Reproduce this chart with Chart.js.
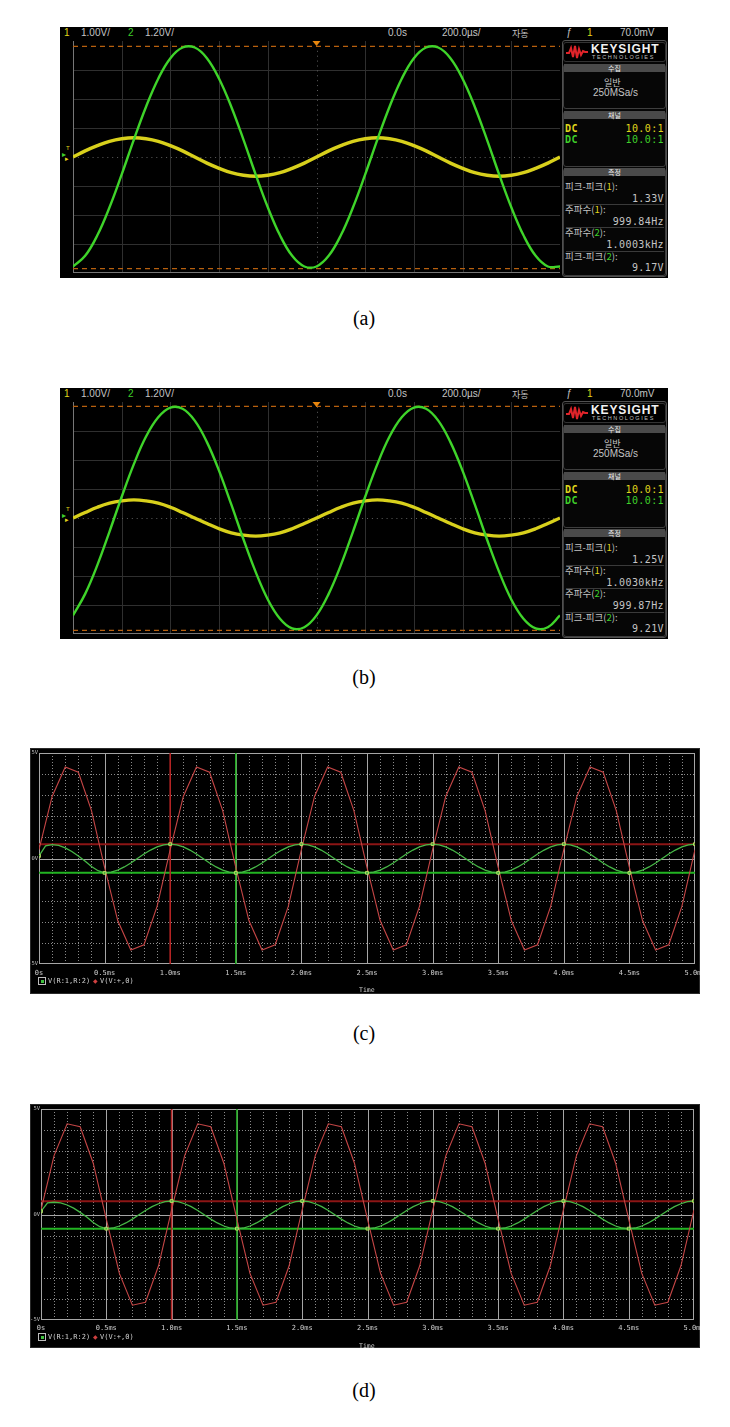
<!DOCTYPE html>
<html>
<head>
<meta charset="utf-8">
<title>scope vs simulation</title>
<script src="https://cdn.jsdelivr.net/npm/chart.js@4.4.1/dist/chart.umd.min.js"></script>
<style>
  body { margin:0; width:730px; height:1427px; background:#fff; position:relative; overflow:hidden; }
  .t { position:absolute; transform:translateY(-50%); white-space:nowrap; line-height:1; font-family:"Liberation Sans", sans-serif; color:#c4c4c4; }
  .scope { position:absolute; left:60px; width:608px; height:251px; background:#000; }
  .cap { position:absolute; left:0; width:728px; text-align:center; font-family:"Liberation Serif", serif; font-size:20px; color:#000; transform:translateY(-50%); }
  canvas { position:absolute; background:#000; }
  .box { position:absolute; border:1px solid #3e3e3e; border-radius:3px; box-sizing:border-box; }
  .bar { position:absolute; left:564px; width:101px; height:8px; background:#4a4a4a; color:#eee; font-size:7px; font-family:"Noto Sans CJK KR", sans-serif; text-align:center; line-height:8px; }
  .ps { position:absolute; left:30px; width:670px; background:#000; border:1px solid #2a2a2a; box-sizing:border-box; }
</style>
</head>
<body>
<div id="root"></div>
<script>
// ---- oscilloscope captures (a), (b): time in ms, 10 div x 0.2 ms ----
const scopeTime = [0,0.05,0.1,0.15,0.2,0.25,0.3,0.35,0.4,0.45,0.5,0.55,0.6,0.65,0.7,0.75,0.8,0.85,0.9,0.95,
  1,1.05,1.1,1.15,1.2,1.25,1.3,1.35,1.4,1.45,1.5,1.55,1.6,1.65,1.7,1.75,1.8,1.85,1.9,1.95,2];

// channel 1 (yellow), volts
const ch1A = [0,0.21,0.39,0.54,0.63,0.665,0.63,0.54,0.39,0.21,0,-0.21,-0.39,-0.54,-0.63,-0.665,-0.63,-0.54,-0.39,-0.21,
  0,0.21,0.39,0.54,0.63,0.665,0.63,0.54,0.39,0.21,0,-0.21,-0.39,-0.54,-0.63,-0.665,-0.63,-0.54,-0.39,-0.21,0];
// channel 2 (green), volts
const ch2A = [-4.53,-4.09,-3.24,-2.08,-0.72,0.72,2.08,3.24,4.09,4.53,4.53,4.09,3.24,2.08,0.72,-0.72,-2.08,-3.24,-4.09,-4.53,
  -4.53,-4.09,-3.24,-2.08,-0.72,0.72,2.08,3.24,4.09,4.53,4.53,4.09,3.24,2.08,0.72,-0.72,-2.08,-3.24,-4.09,-4.53,-4.53];

const ch1B = [0,0.19,0.37,0.51,0.59,0.625,0.59,0.51,0.37,0.19,0,-0.19,-0.37,-0.51,-0.59,-0.625,-0.59,-0.51,-0.37,-0.19,
  0,0.19,0.37,0.51,0.59,0.625,0.59,0.51,0.37,0.19,0,-0.19,-0.37,-0.51,-0.59,-0.625,-0.59,-0.51,-0.37,-0.19,0];
const ch2B = [-4.03,-3.14,-1.95,-0.56,0.88,2.23,3.37,4.17,4.57,4.52,4.03,3.14,1.95,0.56,-0.88,-2.23,-3.37,-4.17,-4.57,-4.52,
  -4.03,-3.14,-1.95,-0.56,0.88,2.23,3.37,4.17,4.57,4.52,4.03,3.14,1.95,0.56,-0.88,-2.23,-3.37,-4.17,-4.57,-4.52,-4.03];

// ch2 peak-to-peak marker levels (orange dashed)
const ch2PeakA = [4.58, -4.62];
const ch2PeakB = [4.62, -4.65];

const scopeHeader = ["1.00V/", "1.20V/", "0.0s", "200.0µs/", "자동", "70.0mV"];
const measA = ["1.33V", "999.84Hz", "1.0003kHz", "9.17V"];
const measB = ["1.25V", "1.0030kHz", "999.87Hz", "9.21V"];

// ---- simulation plots (c), (d): time in ms ----
const simTime = [0,0.05,0.1,0.15,0.2,0.25,0.3,0.35,0.4,0.45,
  0.5,0.55,0.6,0.65,0.7,0.75,0.8,0.85,0.9,0.95,
  1,1.05,1.1,1.15,1.2,1.25,1.3,1.35,1.4,1.45,
  1.5,1.55,1.6,1.65,1.7,1.75,1.8,1.85,1.9,1.95,
  2,2.05,2.1,2.15,2.2,2.25,2.3,2.35,2.4,2.45,
  2.5,2.55,2.6,2.65,2.7,2.75,2.8,2.85,2.9,2.95,
  3,3.05,3.1,3.15,3.2,3.25,3.3,3.35,3.4,3.45,
  3.5,3.55,3.6,3.65,3.7,3.75,3.8,3.85,3.9,3.95,
  4,4.05,4.1,4.15,4.2,4.25,4.3,4.35,4.4,4.45,
  4.5,4.55,4.6,4.65,4.7,4.75,4.8,4.85,4.9,4.95,5];
const redTime = [0,0.1,0.2,0.3,0.4,0.5,0.6,0.7,0.8,0.9,1,1.1,1.2,1.3,1.4,1.5,1.6,1.7,1.8,1.9,
  2,2.1,2.2,2.3,2.4,2.5,2.6,2.7,2.8,2.9,3,3.1,3.2,3.3,3.4,3.5,3.6,3.7,3.8,3.9,
  4,4.1,4.2,4.3,4.4,4.5,4.6,4.7,4.8,4.9,5];

// V(V:+,0) red
const redC = [0.42,2.94,4.34,4.09,2.27,-0.42,-2.94,-4.34,-4.09,-2.27,
  0.42,2.94,4.34,4.09,2.27,-0.42,-2.94,-4.34,-4.09,-2.27,
  0.42,2.94,4.34,4.09,2.27,-0.42,-2.94,-4.34,-4.09,-2.27,
  0.42,2.94,4.34,4.09,2.27,-0.42,-2.94,-4.34,-4.09,-2.27,
  0.42,2.94,4.34,4.09,2.27,-0.42,-2.94,-4.34,-4.09,-2.27,0.42];
// V(R:1,R:2) green
const greenC = [0.12,0.6,0.66,0.62,0.5,0.33,0.12,-0.12,-0.38,-0.58,-0.68,
  -0.65,-0.55,-0.4,-0.21,0,0.21,0.4,0.55,0.65,0.68,0.65,0.55,0.4,0.21,0,-0.21,-0.4,-0.55,-0.65,-0.68,
  -0.65,-0.55,-0.4,-0.21,0,0.21,0.4,0.55,0.65,0.68,0.65,0.55,0.4,0.21,0,-0.21,-0.4,-0.55,-0.65,-0.68,
  -0.65,-0.55,-0.4,-0.21,0,0.21,0.4,0.55,0.65,0.68,0.65,0.55,0.4,0.21,0,-0.21,-0.4,-0.55,-0.65,-0.68,
  -0.65,-0.55,-0.4,-0.21,0,0.21,0.4,0.55,0.65,0.68,0.65,0.55,0.4,0.21,0,-0.21,-0.4,-0.55,-0.65,-0.68,
  -0.65,-0.55,-0.4,-0.21,0,0.21,0.4,0.55,0.65,0.68];

const redD = [0.22,2.79,4.3,4.16,2.43,-0.22,-2.79,-4.3,-4.16,-2.43,
  0.22,2.79,4.3,4.16,2.43,-0.22,-2.79,-4.3,-4.16,-2.43,
  0.22,2.79,4.3,4.16,2.43,-0.22,-2.79,-4.3,-4.16,-2.43,
  0.22,2.79,4.3,4.16,2.43,-0.22,-2.79,-4.3,-4.16,-2.43,
  0.22,2.79,4.3,4.16,2.43,-0.22,-2.79,-4.3,-4.16,-2.43,0.22];
const greenD = [0.15,0.55,0.58,0.55,0.45,0.3,0.1,-0.12,-0.38,-0.58,-0.67,
  -0.64,-0.545,-0.4,-0.22,-0.015,0.19,0.37,0.51,0.61,0.64,0.61,0.51,0.37,0.19,-0.015,-0.22,-0.4,-0.545,-0.64,-0.67,
  -0.64,-0.545,-0.4,-0.22,-0.015,0.19,0.37,0.51,0.61,0.64,0.61,0.51,0.37,0.19,-0.015,-0.22,-0.4,-0.545,-0.64,-0.67,
  -0.64,-0.545,-0.4,-0.22,-0.015,0.19,0.37,0.51,0.61,0.64,0.61,0.51,0.37,0.19,-0.015,-0.22,-0.4,-0.545,-0.64,-0.67,
  -0.64,-0.545,-0.4,-0.22,-0.015,0.19,0.37,0.51,0.61,0.64,0.61,0.51,0.37,0.19,-0.015,-0.22,-0.4,-0.545,-0.64,-0.67,
  -0.64,-0.545,-0.4,-0.22,-0.015,0.19,0.37,0.51,0.61,0.64];

// cursors: vertical (red, green) times and horizontal (red, green) levels
const cursorTimeC = [1.0, 1.5];
const cursorLevelC = [0.68, -0.68];
const cursorTimeD = [1.0, 1.5];
const cursorLevelD = [0.63, -0.67];

const simTicks = ["0s","0.5ms","1.0ms","1.5ms","2.0ms","2.5ms","3.0ms","3.5ms","4.0ms","4.5ms","5.0ms"];
const voltTicks = ["-5V","0V","5V"];
const voltRange = [-5, 5];
const legendNames = ["V(R:1,R:2)", "V(V:+,0)"];

const root = document.getElementById("root");
const xy = (xs, ys) => xs.map((x, i) => ({ x: x, y: ys[i] }));

// ---------- scope screen ----------
function addScope(T, id, meas) {
  let h = `<div class="scope" style="top:${T}px"></div>`;
  const t = (x, y, s, st) => { h += `<div class="t" style="left:${x}px;top:${y}px;${st || ""}">${s}</div>`; };
  const r = (x, y, s, st) => { h += `<div class="t" style="right:${730 - x}px;top:${y}px;${st || ""}">${s}</div>`; };
  const yel = "color:#e0d61c;", grn = "color:#3fd02a;";
  const kr = "font-family:'Noto Sans CJK KR';";
  const mono = "font-family:'DejaVu Sans Mono';font-size:10px;letter-spacing:0.4px;";

  const hy = T + 5.5, hf = "font-size:10px;";
  t(64, hy, "1", hf + yel);
  t(81, hy, scopeHeader[0], hf);
  t(128, hy, "2", hf + grn);
  t(145, hy, scopeHeader[1], hf);
  t(388, hy, scopeHeader[2], hf);
  t(442, hy, scopeHeader[3], hf);
  t(512, hy, scopeHeader[4], "font-size:9px;" + kr);
  t(566, hy, "ƒ", hf + "font-style:italic;");
  t(587, hy, "1", hf + yel);
  t(620, hy, scopeHeader[5], hf);

  // ground / trigger markers left of the grid
  t(66, T + 121, "T", "font-size:6px;" + yel);
  t(62, T + 128, "▸", "font-size:8px;" + grn);
  t(65, T + 131, "▸", "font-size:7px;" + yel);

  h += `<canvas id="${id}" width="487" height="232" style="left:73px;top:${T + 14}px"></canvas>`;

  // side panel
  h += `<div class="box" style="left:562px;top:${T + 13}px;width:105px;height:237px;background:#060606;border-color:#505050"></div>`;
  h += `<div class="box" style="left:563px;top:${T + 15}px;width:103px;height:20px;background:#000;border-color:#333"></div>`;
  h += `<svg style="position:absolute;left:566px;top:${T + 18}px" width="22" height="14"><polyline points="0,8 3,8 5,3 7,12 9,1 11,13 13,4 15,10 17,6 19,7 22,7" fill="none" stroke="#e0242a" stroke-width="2"/></svg>`;
  t(591, T + 22, "KEYSIGHT", "font-size:12px;font-weight:bold;color:#f2f2f2;letter-spacing:0.9px;");
  t(592, T + 30.5, "TECHNOLOGIES", "font-size:5.5px;color:#bdbdbd;letter-spacing:1.6px;");

  h += `<div class="box" style="left:563px;top:${T + 37}px;width:103px;height:45px"></div>`;
  h += `<div class="bar" style="top:${T + 37}px">수집</div>`;
  t(604, T + 55, "일반", "font-size:9px;" + kr);
  t(593, T + 66, "250MSa/s", "font-size:10px;");

  h += `<div class="box" style="left:563px;top:${T + 84}px;width:103px;height:56px"></div>`;
  h += `<div class="bar" style="top:${T + 84}px">채널</div>`;
  t(565, T + 102, "DC", mono + "font-weight:bold;" + yel);
  r(664, T + 102, "10.0:1", mono + yel);
  t(565, T + 113, "DC", mono + "font-weight:bold;" + grn);
  r(664, T + 113, "10.0:1", mono + grn);

  h += `<div class="box" style="left:563px;top:${T + 141}px;width:103px;height:108px"></div>`;
  h += `<div class="bar" style="top:${T + 141}px">측정</div>`;
  const lab = "font-size:9.5px;" + kr;
  t(565, T + 160, `피크-피크(<span style="${yel}">1</span>):`, lab);
  r(664, T + 172, meas[0], mono);
  t(565, T + 183, `주파수(<span style="${yel}">1</span>):`, lab);
  r(664, T + 195, meas[1], mono);
  t(565, T + 206, `주파수(<span style="${grn}">2</span>):`, lab);
  r(664, T + 218, meas[2], mono);
  t(565, T + 230, `피크-피크(<span style="${grn}">2</span>):`, lab);
  r(664, T + 241, meas[3], mono);
  [177, 200, 224].forEach(dy => {
    h += `<div style="position:absolute;left:566px;top:${T + dy}px;width:98px;height:1px;background:#3a3a3a"></div>`;
  });

  root.insertAdjacentHTML("beforeend", h);
}

const scopeGrid = {
  id: "scopeGrid",
  beforeDatasetsDraw(chart) {
    const { ctx, chartArea: a, scales: { x, y } } = chart;
    const vl = px => { ctx.beginPath(); ctx.moveTo(px, a.top); ctx.lineTo(px, a.bottom); ctx.stroke(); };
    const hl = py => { ctx.beginPath(); ctx.moveTo(a.left, py); ctx.lineTo(a.right, py); ctx.stroke(); };
    ctx.save();
    ctx.lineWidth = 1;
    ctx.strokeStyle = "#2f2f2f";
    for (let i = 1; i < 10; i++) if (i !== 5) vl(Math.round(x.getPixelForValue(i * 0.2)) + 0.5);
    for (let j = -3; j <= 3; j++) if (j !== 0) hl(Math.round(y.getPixelForValue(j)) + 0.5);
    ctx.strokeStyle = "#5e5e5e";
    ctx.setLineDash([1, 3.9]);
    vl(Math.round(x.getPixelForValue(1)) + 0.5);
    hl(Math.round(y.getPixelForValue(0)) + 0.5);
    ctx.setLineDash([]);
    ctx.strokeStyle = "#767676";
    vl(a.left + 0.5);
    hl(a.bottom - 0.5);
    ctx.restore();
  },
  afterDatasetsDraw(chart) {
    const { ctx, chartArea: a, scales: { x } } = chart;
    const cx = x.getPixelForValue(1);
    ctx.save();
    ctx.fillStyle = "#e8860e";
    ctx.beginPath();
    ctx.moveTo(cx - 4, a.top);
    ctx.lineTo(cx + 4, a.top);
    ctx.lineTo(cx, a.top + 5);
    ctx.closePath();
    ctx.fill();
    ctx.restore();
  }
};

function scopeChart(id, ch1, ch2, peak) {
  const t0 = scopeTime[0], t1 = scopeTime[scopeTime.length - 1];
  const dash = v => ({
    data: [{ x: t0, y: v }, { x: t1, y: v }], yAxisID: "y2",
    borderColor: "#b8600e", borderWidth: 1.3, borderDash: [5, 4], pointRadius: 0, order: 2
  });
  new Chart(document.getElementById(id), {
    type: "line",
    data: {
      datasets: [
        { data: xy(scopeTime, ch2), yAxisID: "y2", borderColor: "#3fd42a", borderWidth: 2.4, tension: 0.4, pointRadius: 0, order: 0 },
        { data: xy(scopeTime, ch1), yAxisID: "y", borderColor: "#d8d01c", borderWidth: 3.4, tension: 0.4, pointRadius: 0, order: 0 },
        dash(peak[0]),
        dash(peak[1])
      ]
    },
    options: {
      responsive: false, animation: false, devicePixelRatio: 1, events: [],
      layout: { padding: 0 },
      plugins: { legend: { display: false }, tooltip: { enabled: false } },
      scales: {
        x: { type: "linear", min: 0, max: 2, display: false },
        y: { min: -4, max: 4, display: false },
        y2: { min: -4.8, max: 4.8, display: false }
      }
    },
    plugins: [scopeGrid]
  });
}

// ---------- simulation window ----------
function addSim(T, H, id) {
  let h = `<div class="ps" style="top:${T}px;height:${H}px"></div>`;
  h += `<canvas id="${id}" width="670" height="${H}" style="left:30px;top:${T}px;background:transparent"></canvas>`;
  const ly = T + 233;
  const f = "font-family:'DejaVu Sans Mono';font-size:7px;color:#cfcfcf;";
  h += `<div style="position:absolute;left:38px;top:${ly - 4}px;width:6px;height:6px;border:1px solid #bdbdbd"><div style="margin:1.5px;width:3px;height:3px;background:#3fc23f"></div></div>`;
  h += `<div class="t" style="left:48px;top:${ly}px;${f}">${legendNames[0]}</div>`;
  h += `<div class="t" style="left:93px;top:${ly}px;font-size:6px;color:#d04040">◆</div>`;
  h += `<div class="t" style="left:100px;top:${ly}px;${f}">${legendNames[1]}</div>`;
  h += `<div class="t" style="left:359px;top:${T + 242}px;${f}font-size:6.5px">Time</div>`;
  root.insertAdjacentHTML("beforeend", h);
}

const simGrid = {
  id: "simGrid",
  beforeDatasetsDraw(chart) {
    const { ctx, chartArea: a, scales: { x, y } } = chart;
    const vl = px => { px = Math.round(px) + 0.5; ctx.beginPath(); ctx.moveTo(px, a.top); ctx.lineTo(px, a.bottom); ctx.stroke(); };
    const hl = py => { py = Math.round(py) + 0.5; ctx.beginPath(); ctx.moveTo(a.left, py); ctx.lineTo(a.right, py); ctx.stroke(); };
    ctx.save();
    ctx.lineWidth = 1;
    ctx.strokeStyle = "#8a8a8a";
    ctx.setLineDash([1, 2]);
    for (let i = 1; i < 50; i++) if (i % 5) vl(x.getPixelForValue(i * 0.1));
    for (let v = -4; v <= 4; v++) if (v) hl(y.getPixelForValue(v));
    ctx.setLineDash([]);
    ctx.strokeStyle = "#a6a6a6";
    for (let i = 1; i < 10; i++) vl(x.getPixelForValue(i * 0.5));
    hl(y.getPixelForValue(0));
    ctx.strokeRect(Math.round(a.left) + 0.5, Math.round(a.top) + 0.5, Math.round(a.right - a.left) - 1, Math.round(a.bottom - a.top) - 1);
    ctx.restore();
  }
};

function simChart(id, red, green, curT, curV, lay) {
  const t0 = simTime[0], t1 = simTime[simTime.length - 1];
  const vLine = (t, c) => ({ data: [{ x: t, y: voltRange[0] }, { x: t, y: voltRange[1] }], borderColor: c, borderWidth: 1.6, pointRadius: 0, order: 1 });
  const hLine = (v, c) => ({ data: [{ x: t0, y: v }, { x: t1, y: v }], borderColor: c, borderWidth: 2, pointRadius: 0, order: 1 });
  const tickFont = { family: "DejaVu Sans Mono", size: 7 };
  new Chart(document.getElementById(id), {
    type: "line",
    data: {
      datasets: [
        { data: xy(simTime, green), borderColor: "#47b847", borderWidth: 1.3, tension: 0, order: 0,
          pointStyle: "rect", pointRadius: c => (c.dataIndex % 10 === 0 ? 2 : 0),
          pointBorderColor: "#b6e060", pointBackgroundColor: "rgba(0,0,0,0)", pointBorderWidth: 1 },
        { data: xy(redTime, red), borderColor: "#c64646", borderWidth: 1.1, tension: 0, pointRadius: 0, order: 0 },
        vLine(curT[0], "#b42424"),
        vLine(curT[1], "#22aa22"),
        hLine(curV[0], "#8c1515"),
        hLine(curV[1], "#22b422")
      ]
    },
    options: {
      responsive: false, animation: false, devicePixelRatio: 1, events: [],
      layout: { padding: { left: 0, top: lay.top, right: lay.right, bottom: 0 } },
      plugins: { legend: { display: false }, tooltip: { enabled: false } },
      scales: {
        x: {
          type: "linear", min: 0, max: 5,
          grid: { display: false, drawTicks: false }, border: { display: false },
          ticks: { stepSize: 0.5, autoSkip: false, maxRotation: 0, padding: lay.labelPad, color: "#cfcfcf", font: tickFont,
            callback: (v, i) => simTicks[i] },
          afterFit: s => { s.height = lay.axisH; s.paddingLeft = 0; s.paddingRight = 0; }
        },
        y: {
          min: voltRange[0], max: voltRange[1],
          grid: { display: false, drawTicks: false }, border: { display: false },
          ticks: { stepSize: 5, padding: 1, color: "#bdbdbd", font: { family: "DejaVu Sans Mono", size: 5.5 },
            callback: (v, i) => voltTicks[i] },
          afterFit: s => { s.width = lay.axisW; s.paddingTop = 0; s.paddingBottom = 0; }
        }
      }
    },
    plugins: [simGrid]
  });
}

// ---------- page ----------
addScope(27, "scopeA", measA);
addScope(388, "scopeB", measB);
addSim(748, 246, "simC");
addSim(1104, 244, "simD");

root.insertAdjacentHTML("beforeend",
  `<div class="cap" style="top:318px">(a)</div>
   <div class="cap" style="top:677px">(b)</div>
   <div class="cap" style="top:1033px">(c)</div>
   <div class="cap" style="top:1390px">(d)</div>`);

scopeChart("scopeA", ch1A, ch2A, ch2PeakA);
scopeChart("scopeB", ch1B, ch2B, ch2PeakB);
simChart("simC", redC, greenC, cursorTimeC, cursorLevelC, { top: 3, right: 5, axisW: 9, axisH: 30, labelPad: 5 });
simChart("simD", redD, greenD, cursorTimeD, cursorLevelD, { top: 3, right: 6, axisW: 11, axisH: 28, labelPad: 4 });
</script>
</body>
</html>
